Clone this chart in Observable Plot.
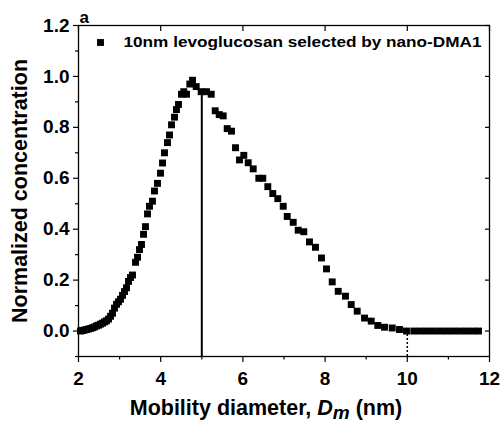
<!DOCTYPE html>
<html><head><meta charset="utf-8">
<script src="https://cdn.jsdelivr.net/npm/d3@7"></script>
<script src="https://cdn.jsdelivr.net/npm/@observablehq/plot@0.6"></script>
<style>body{margin:0;background:#fff;}</style>
</head><body><div id="chart"></div>
<script>
const diameter = [2.049,2.097,2.146,2.195,2.243,2.292,2.341,2.389,2.438,2.487,2.535,2.584,2.633,2.681,2.730,2.779,2.827,2.876,2.925,2.973,
3.022,3.071,3.119,3.168,3.217,3.265,3.314,3.387,3.436,3.484,3.533,3.582,3.630,3.679,3.727,3.800,3.849,3.922,3.995,4.044,
4.092,4.165,4.214,4.263,4.336,4.384,4.433,4.506,4.562,4.628,4.708,4.774,4.864,4.985,5.114,5.229,5.326,5.423,5.521,5.618,
5.723,5.820,5.917,6.022,6.129,6.251,6.387,6.484,6.606,6.727,6.849,6.981,7.078,7.224,7.345,7.482,7.620,7.766,7.912,8.034,
8.173,8.319,8.496,8.635,8.781,8.959,9.122,9.282,9.445,9.633,9.810,9.980,10.158,10.321,10.479,10.637,10.796,10.954,11.112,11.270,
11.428,11.586,11.732];
const concentration = [0.000,0.002,0.004,0.006,0.008,0.010,0.013,0.016,0.020,0.023,0.027,0.031,0.036,0.040,0.047,0.058,0.070,0.090,0.105,0.115,
0.125,0.140,0.155,0.170,0.195,0.210,0.220,0.270,0.290,0.320,0.340,0.380,0.410,0.460,0.490,0.510,0.550,0.580,0.620,0.660,
0.700,0.740,0.770,0.810,0.840,0.870,0.890,0.930,0.940,0.930,0.970,0.985,0.960,0.940,0.940,0.930,0.865,0.850,0.845,0.795,
0.785,0.720,0.672,0.690,0.661,0.637,0.600,0.600,0.567,0.540,0.520,0.490,0.450,0.427,0.396,0.390,0.350,0.329,0.287,0.244,
0.193,0.156,0.137,0.104,0.078,0.051,0.039,0.022,0.015,0.012,0.006,0.000,0.000,0.000,0.000,0.000,0.000,0.000,0.000,0.000,
0.000,0.000,0.000];
const xTicks = [2,4,6,8,10,12];
const xMinor = [3,5,7,9,11];
const yTicks = [0,0.2,0.4,0.6,0.8,1.0,1.2];
const yMinor = [-0.1,0.1,0.3,0.5,0.7,0.9,1.1];
const selectedSize = [5];
const cutoffSize = [10];
const selectedTop = 0.935;
const cutoffTop = -0.012;
const legendLabel = "10nm levoglucosan selected by nano-DMA1";
const panelLabel = "a";
const yTitle = "Normalized concentration";
const xTitle = "Mobility diameter, Dm (nm)";

const data = diameter.map((d, i) => ({d, c: concentration[i]}));
const font = "Liberation Sans, Arial, Helvetica, sans-serif";
const blank = () => "";

const chart = Plot.plot({
  width: 504, height: 423,
  marginLeft: 78, marginRight: 15, marginTop: 25, marginBottom: 67,
  style: {fontFamily: font, color: "black", background: "white"},
  x: {domain: [2, 12]},
  y: {domain: [-0.1, 1.2]},
  marks: [
    Plot.axisX({ticks: xTicks, tickSize: 6, tickPadding: 9, fontSize: 19, fontWeight: "bold", label: null, strokeWidth: 1.2}),
    Plot.axisX({ticks: xMinor, tickSize: 3.5, tickFormat: blank, label: null, strokeWidth: 1.2}),
    Plot.axisX({anchor: "top", ticks: xTicks, tickSize: -5, tickFormat: blank, label: null, strokeWidth: 1.2}),
    Plot.axisY({ticks: yTicks, tickSize: 5, tickPadding: 4, fontSize: 19, fontWeight: "bold", label: null, tickFormat: d3.format(".1f"), strokeWidth: 1.2}),
    Plot.axisY({ticks: yMinor, tickSize: 3, tickFormat: blank, label: null, strokeWidth: 1.2}),
    Plot.axisY({anchor: "right", ticks: yTicks, tickSize: -5, tickFormat: blank, label: null, strokeWidth: 1.2}),
    Plot.frame({stroke: "black", strokeWidth: 1.3}),
    Plot.ruleX(selectedSize, {y1: -0.1, y2: selectedTop, stroke: "black", strokeWidth: 2}),
    Plot.ruleX(cutoffSize, {y1: -0.1, y2: cutoffTop, stroke: "black", strokeWidth: 1.5, strokeDasharray: "2,2"}),
    Plot.dot(data, {x: "d", y: "c", symbol: "square", r: 3.9, fill: "black"}),
    Plot.dot([legendLabel], {frameAnchor: "top-left", dx: 22, dy: 17, symbol: "square", r: 3.9, fill: "black"}),
    Plot.text([legendLabel], {frameAnchor: "top-left", dx: 45, dy: 17, textAnchor: "start", lineAnchor: "middle", fontSize: 15.5, fontWeight: "bold", fill: "black"}),
    Plot.text([panelLabel], {frameAnchor: "top-left", dx: 1, dy: -3, textAnchor: "start", lineAnchor: "bottom", fontSize: 17, fontWeight: "bold", fill: "black"}),
    Plot.text([yTitle], {frameAnchor: "left", dx: -58, rotate: -90, textAnchor: "middle", lineAnchor: "middle", fontSize: 21.5, fontWeight: "bold", fill: "black"}),
    Plot.text([xTitle], {frameAnchor: "bottom", dx: -18, dy: 52, textAnchor: "middle", lineAnchor: "middle", fontSize: 21.5, fontWeight: "bold", fill: "black"})
  ]
});
document.getElementById("chart").appendChild(chart);

// italic D with subscript m in the x title; stretch legend to the reference width
d3.select(chart).selectAll("text").each(function(){
  const t = d3.select(this);
  if (this.textContent === xTitle) {
    t.text(null);
    t.append("tspan").text("Mobility diameter, ");
    t.append("tspan").attr("font-style", "italic").text("D");
    t.append("tspan").attr("font-style", "italic").attr("dy", 4).attr("font-size", 19).text("m");
    t.append("tspan").attr("dy", -4).text(" (nm)");
  } else if (this.textContent === legendLabel) {
    t.attr("textLength", 358).attr("lengthAdjust", "spacingAndGlyphs");
  }
});
</script>
</body></html>
